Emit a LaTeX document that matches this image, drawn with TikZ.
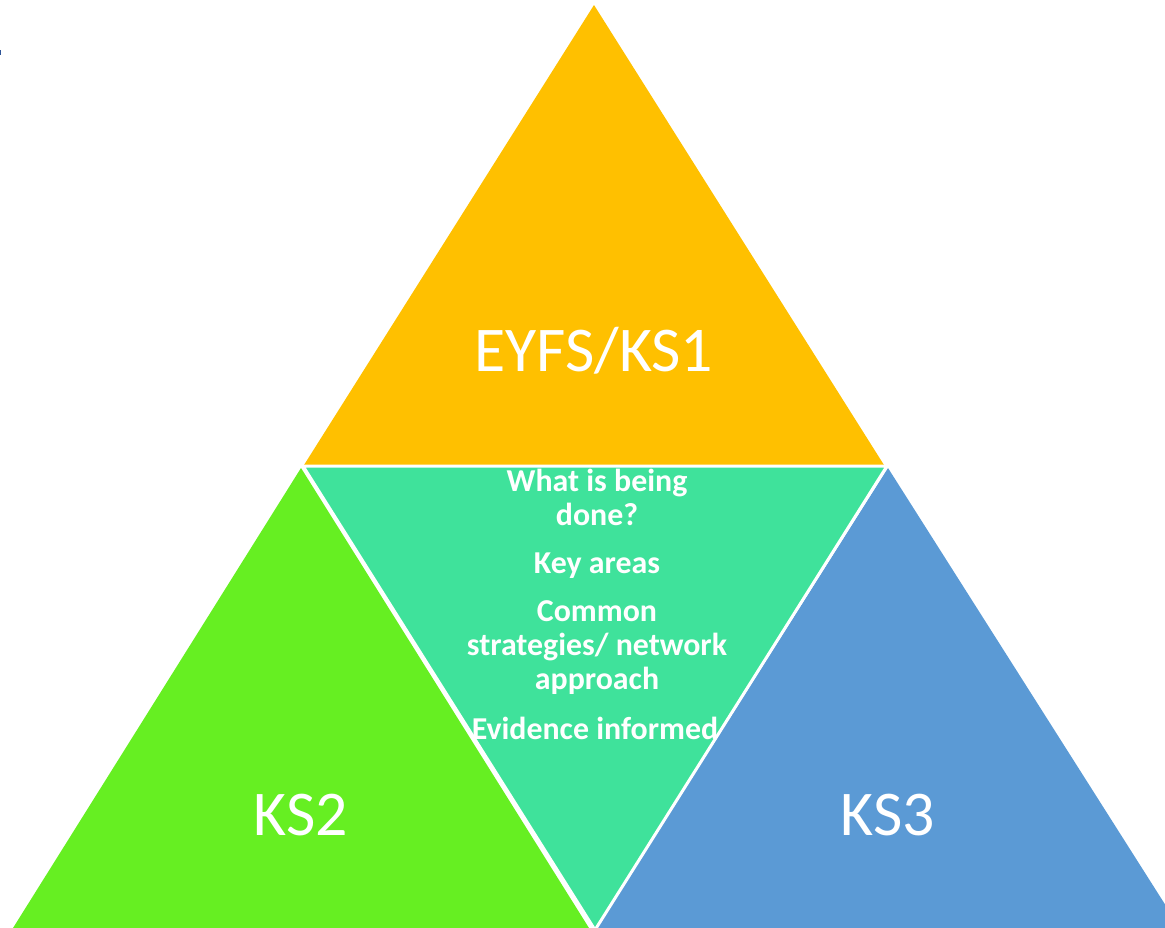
\documentclass[tikz,border=0pt]{standalone}
\usepackage{fontspec}
\setmainfont{Carlito}
\definecolor{cgold}{HTML}{FFC000}
\definecolor{cgreen}{HTML}{66EF22}
\definecolor{cteal}{HTML}{3FE29B}
\definecolor{cblue}{HTML}{5B9AD5}
\definecolor{cmark}{HTML}{2F5597}
\tikzset{
  bigtxt/.style={text=white, font=\fontsize{64}{70}\selectfont, anchor=base, inner sep=0pt},
  smalltxt/.style={text=white, font=\bfseries\fontsize{32}{36}\selectfont, anchor=base, inner sep=0pt},
}
\begin{document}
\begin{tikzpicture}[x=1bp,y=-1bp]
\useasboundingbox (0,0) rectangle (1165,928);
\clip (0,0) rectangle (1165,928);
% top triangle
\fill[cgold] (594,5) -- (884,465) -- (304,465) -- cycle;
% left triangle
\fill[cgreen] (301,468) -- (589,928) -- (13,928) -- cycle;
% right triangle
\fill[cblue] (888,468) -- (1180,928) -- (597,928) -- cycle;
% centre inverted triangle
\fill[cteal, draw=white, line width=3bp, line join=miter] (303,466) -- (887,466) -- (595,930) -- cycle;
% stray mark
\fill[cmark] (0,50) rectangle (1.5,55);
\node[bigtxt] (t1) at (594,371) {EYFS/KS1};
\node[bigtxt] (t2) at (301,835) {KS2};
\node[bigtxt] (t3) at (888,835) {KS3};
\node[smalltxt] (c1) at (597,491) {What is being};
\node[smalltxt] (c2) at (597,525) {done?};
\node[smalltxt] (c3) at (597,573) {Key areas};
\node[smalltxt] (c4) at (597,621) {Common};
\node[smalltxt] (c5) at (597,655) {strategies/ network};
\node[smalltxt] (c6) at (597,689) {approach};
\node[smalltxt] (c7) at (595,739) {Evidence informed};
\end{tikzpicture}
\end{document}
